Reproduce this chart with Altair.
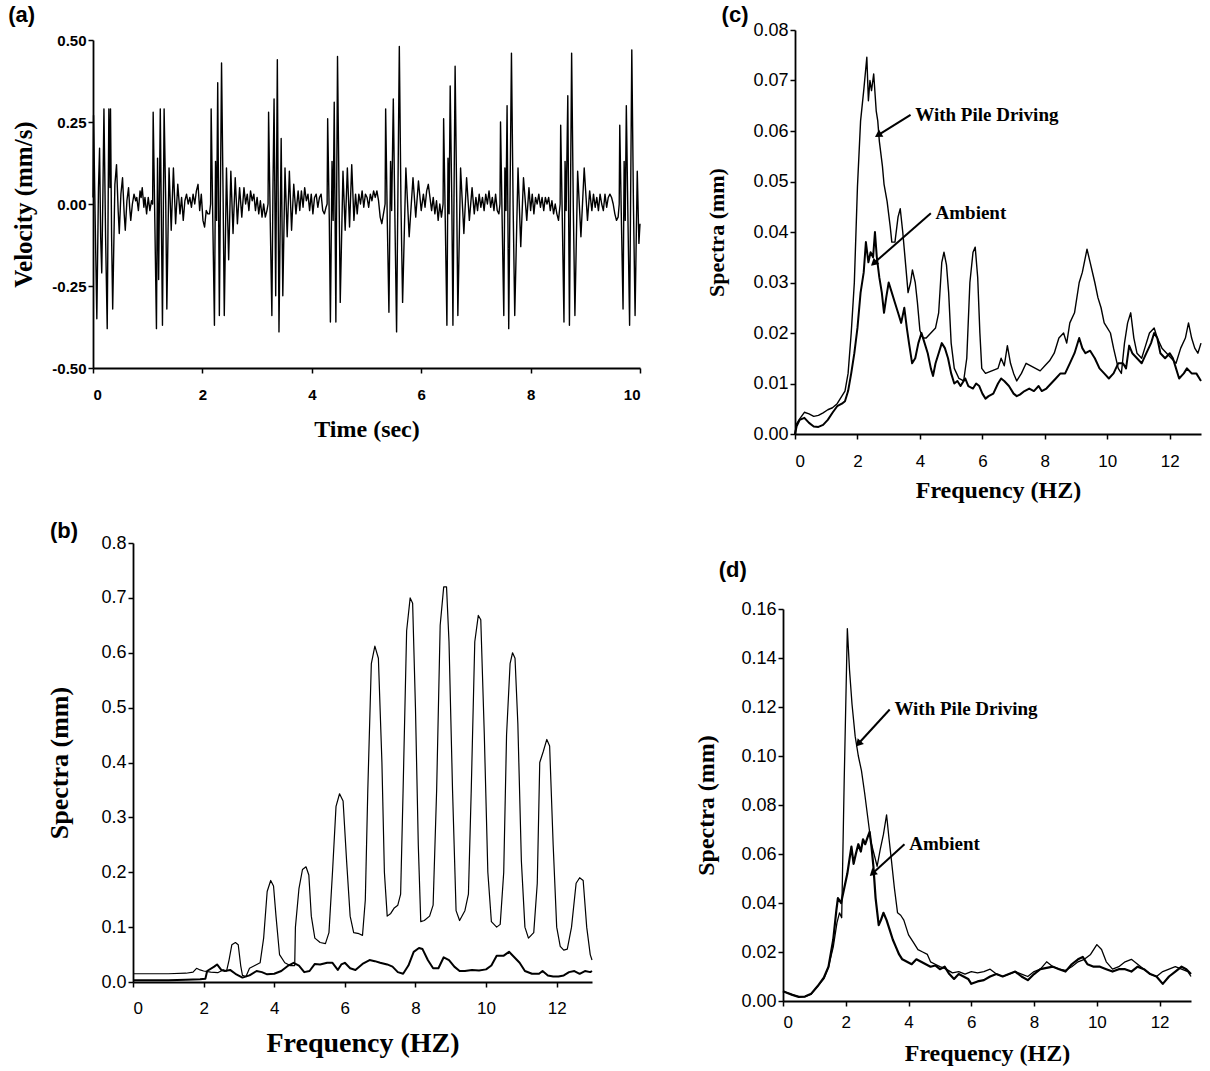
import math
import altair as alt
import pandas as pd

# ---------------- Panel (a): velocity time history, [time s, velocity mm/s] ----------------
burst_01 = [[0.00,0.02],[0.01,0.27],[0.04,-0.05],[0.07,-0.35],[0.10,0.05],[0.12,0.17],[0.14,-0.10],[0.16,-0.21],
            [0.18,0.02],[0.20,0.29],[0.23,-0.10],[0.26,-0.38],[0.29,0.29],[0.31,0.05],[0.32,0.29],[0.34,-0.10],
            [0.36,-0.32],[0.40,0.06],[0.43,0.12],[0.46,-0.02],[0.48,-0.09],[0.51,0.03],[0.54,0.08],[0.57,-0.03],
            [0.59,-0.08],[0.62,0.01],[0.65,0.05],[0.67,-0.01],[0.69,-0.05],[0.72,0.00],[0.75,0.03],[0.78,0.01],
            [0.80,0.02],[0.83,-0.02],[0.86,0.04],[0.88,0.02],[0.90,0.05],[0.93,-0.01],[0.95,0.02],[0.98,-0.03],
            [1.01,0.02],[1.04,-0.02],[1.07,0.01]]
burst_02 = [[1.09,0.00],[1.10,0.28],[1.13,-0.05],[1.16,-0.38],[1.18,0.14],[1.20,-0.23],[1.23,0.29],[1.25,-0.05],
            [1.27,-0.37],[1.30,0.29],[1.33,0.00],[1.35,-0.32],[1.39,0.11],[1.43,-0.08],[1.47,0.11],[1.51,-0.06],
            [1.55,0.06],[1.59,-0.03],[1.62,0.02],[1.65,-0.05],[1.68,0.01],[1.71,0.03],[1.74,0.00],[1.77,0.02],
            [1.80,-0.01],[1.83,0.03],[1.86,0.00],[1.89,0.04],[1.92,0.06],[1.95,-0.02],[1.98,0.03],[2.01,-0.05],
            [2.04,-0.07],[2.07,-0.02],[2.10,-0.03],[2.13,-0.03]]
burst_03 = [[2.15,0.00],[2.16,0.29],[2.19,-0.05],[2.22,-0.37],[2.24,0.13],[2.26,-0.05],[2.28,0.37],[2.31,-0.34],
            [2.35,0.43],[2.38,0.00],[2.40,-0.34],[2.44,0.11],[2.48,-0.17],[2.52,0.10],[2.56,-0.09],[2.60,0.08],
            [2.64,-0.06],[2.68,0.05],[2.72,-0.04],[2.76,0.05],[2.79,0.00],[2.82,0.03],[2.85,-0.02],[2.88,0.04],
            [2.91,0.01],[2.94,0.03],[2.97,-0.02],[3.00,0.02],[3.03,-0.03],[3.06,0.01],[3.09,-0.04],[3.12,0.00],
            [3.15,-0.04],[3.18,-0.02]]
burst_04 = [[3.20,0.00],[3.21,0.28],[3.24,-0.05],[3.27,-0.34],[3.29,0.05],[3.31,0.32],[3.34,-0.28],[3.37,0.44],
            [3.40,-0.39],[3.44,0.20],[3.47,-0.28],[3.51,0.11],[3.55,-0.10],[3.59,0.10],[3.63,-0.08],[3.67,0.06],
            [3.71,-0.03],[3.75,0.04],[3.78,-0.02],[3.81,0.04],[3.84,-0.01],[3.87,0.05],[3.90,0.01],[3.93,0.03],
            [3.96,-0.02],[3.99,0.03],[4.02,-0.03],[4.05,0.02],[4.08,0.03],[4.11,-0.01],[4.14,0.02],[4.17,0.03],
            [4.20,-0.02],[4.23,-0.03],[4.26,-0.01]]
burst_05 = [[4.28,0.00],[4.29,0.26],[4.32,-0.05],[4.34,-0.36],[4.37,0.13],[4.39,-0.05],[4.41,0.31],[4.44,-0.36],
            [4.47,0.45],[4.50,0.00],[4.52,-0.30],[4.57,0.10],[4.61,-0.08],[4.65,0.11],[4.69,-0.07],[4.73,0.12],
            [4.77,-0.05],[4.80,0.03],[4.83,-0.03],[4.86,0.03],[4.89,0.00],[4.92,0.04],[4.95,-0.01],[4.98,0.03],
            [5.01,0.02],[5.04,-0.01],[5.07,0.03],[5.10,0.01],[5.13,0.04],[5.16,0.02],[5.19,0.04],[5.22,0.01],
            [5.25,-0.04],[5.28,-0.06],[5.31,-0.03]]
burst_06 = [[5.34,0.00],[5.35,0.29],[5.38,-0.05],[5.41,-0.33],[5.44,0.13],[5.46,-0.02],[5.49,0.32],[5.52,-0.05],
            [5.55,-0.39],[5.60,0.48],[5.63,0.00],[5.66,-0.30],[5.72,0.11],[5.78,-0.10],[5.85,0.08],[5.90,-0.04],
            [5.95,0.07],[6.00,-0.02],[6.04,0.03],[6.07,-0.01],[6.10,0.04],[6.13,0.06],[6.16,0.02],[6.19,-0.02],
            [6.22,0.02],[6.25,-0.03],[6.28,0.01],[6.31,-0.05],[6.34,0.00],[6.37,-0.04]]
burst_07 = [[6.40,0.00],[6.41,0.26],[6.44,-0.05],[6.47,-0.37],[6.49,0.14],[6.51,-0.03],[6.53,0.36],[6.56,0.00],
            [6.58,-0.37],[6.62,0.42],[6.65,0.00],[6.67,-0.34],[6.72,0.11],[6.78,-0.09],[6.83,0.08],[6.88,-0.05],
            [6.93,0.05],[6.97,-0.03],[7.00,0.02],[7.03,-0.02],[7.06,0.03],[7.09,-0.01],[7.12,0.02],[7.15,-0.02],
            [7.18,0.03],[7.21,0.00],[7.24,0.04],[7.27,-0.01],[7.30,0.02],[7.33,-0.02],[7.36,0.03],[7.39,-0.02],
            [7.42,-0.03]]
burst_08 = [[7.44,0.00],[7.45,0.25],[7.48,-0.05],[7.51,-0.34],[7.53,0.11],[7.55,-0.02],[7.57,0.30],[7.60,-0.38],
            [7.65,0.46],[7.68,0.00],[7.71,-0.34],[7.77,0.11],[7.82,-0.13],[7.87,0.08],[7.93,-0.05],[7.97,0.05],
            [8.00,-0.02],[8.03,0.03],[8.06,-0.03],[8.09,0.02],[8.12,0.00],[8.15,0.03],[8.18,-0.01],[8.21,0.02],
            [8.24,-0.02],[8.27,0.02],[8.30,0.00],[8.33,0.02],[8.36,-0.02],[8.39,0.01],[8.42,-0.03],[8.45,0.00],
            [8.48,-0.03],[8.51,-0.05]]
burst_09 = [[8.54,0.00],[8.55,0.24],[8.58,-0.05],[8.61,-0.36],[8.63,0.13],[8.65,-0.02],[8.68,0.33],[8.71,-0.37],
            [8.75,0.46],[8.78,0.00],[8.81,-0.34],[8.86,0.10],[8.92,-0.10],[8.98,0.11],[9.04,-0.05],[9.08,0.04],
            [9.12,-0.02],[9.15,0.03],[9.18,-0.01],[9.21,0.02],[9.24,-0.02],[9.27,0.03],[9.30,0.00],[9.33,-0.02],
            [9.36,0.03],[9.39,-0.01],[9.42,0.02],[9.45,0.03],[9.48,0.02],[9.51,0.00],[9.54,-0.03],[9.57,-0.05],
            [9.60,-0.04]]
burst_10 = [[9.62,0.00],[9.63,0.24],[9.66,-0.05],[9.69,-0.32],[9.71,0.13],[9.73,-0.05],[9.75,0.30],[9.78,-0.05],
            [9.81,-0.37],[9.85,0.47],[9.88,0.00],[9.91,-0.34],[9.95,0.10],[9.98,-0.12],[10.00,-0.06]]
velocity_bursts = [burst_01, burst_02, burst_03, burst_04, burst_05, burst_06, burst_07, burst_08, burst_09, burst_10]

# ---------------- Panel (b): [frequency Hz, spectra mm] ----------------
b_pile = [[0.0,0.015],[0.5,0.015],[1.0,0.015],[1.5,0.016],[1.7,0.018],[1.8,0.025],[1.9,0.022],[2.0,0.020],[2.2,0.018],
          [2.4,0.017],[2.55,0.022],[2.65,0.020],[2.72,0.040],[2.8,0.068],[2.9,0.072],[2.98,0.068],[3.05,0.030],
          [3.1,0.012],[3.2,0.010],[3.3,0.025],[3.45,0.030],[3.6,0.035],[3.7,0.080],[3.8,0.165],[3.9,0.185],
          [3.98,0.175],[4.05,0.120],[4.15,0.050],[4.3,0.035],[4.45,0.030],[4.58,0.030],[4.6,0.100],[4.7,0.170],
          [4.8,0.205],[4.9,0.210],[4.98,0.195],[5.05,0.120],[5.15,0.080],[5.3,0.072],[5.45,0.070],[5.55,0.090],
          [5.65,0.200],[5.75,0.320],[5.85,0.343],[5.95,0.330],[6.05,0.220],[6.15,0.120],[6.25,0.090],[6.4,0.088],
          [6.5,0.085],[6.58,0.150],[6.65,0.350],[6.75,0.580],[6.85,0.612],[6.95,0.590],[7.05,0.400],[7.12,0.200],
          [7.2,0.120],[7.3,0.125],[7.4,0.135],[7.5,0.140],[7.58,0.160],[7.65,0.350],[7.75,0.640],[7.85,0.700],
          [7.92,0.690],[8.0,0.500],[8.08,0.250],[8.15,0.110],[8.25,0.112],[8.4,0.120],[8.5,0.140],[8.6,0.350],
          [8.7,0.650],[8.8,0.720],[8.88,0.720],[8.95,0.620],[9.05,0.350],[9.15,0.130],[9.25,0.112],[9.4,0.130],
          [9.5,0.160],[9.58,0.350],[9.68,0.620],[9.78,0.668],[9.85,0.660],[9.95,0.450],[10.05,0.200],[10.15,0.110],
          [10.3,0.100],[10.4,0.105],[10.5,0.200],[10.58,0.450],[10.68,0.580],[10.75,0.600],[10.82,0.590],
          [10.9,0.470],[11.0,0.220],[11.1,0.100],[11.2,0.080],[11.35,0.090],[11.45,0.180],[11.52,0.400],
          [11.62,0.420],[11.72,0.442],[11.8,0.430],[11.9,0.250],[12.0,0.100],[12.1,0.065],[12.2,0.058],
          [12.3,0.060],[12.42,0.100],[12.55,0.180],[12.65,0.190],[12.75,0.185],[12.85,0.100],[12.95,0.050],
          [13.0,0.040]]
b_ambient = [[0.0,0.003],[0.5,0.003],[1.0,0.003],[1.5,0.004],[1.9,0.005],[2.05,0.006],[2.1,0.020],[2.3,0.028],
             [2.38,0.032],[2.5,0.022],[2.6,0.020],[2.75,0.022],[2.9,0.015],[3.1,0.008],[3.3,0.012],[3.5,0.020],
             [3.65,0.018],[3.8,0.014],[4.0,0.015],[4.2,0.020],[4.4,0.030],[4.55,0.035],[4.7,0.030],[4.85,0.018],
             [5.0,0.020],[5.15,0.033],[5.3,0.032],[5.5,0.035],[5.65,0.035],[5.8,0.022],[5.9,0.032],[6.0,0.035],
             [6.15,0.025],[6.3,0.022],[6.5,0.033],[6.7,0.040],[6.85,0.038],[7.0,0.035],[7.2,0.032],[7.35,0.028],
             [7.5,0.018],[7.65,0.015],[7.8,0.030],[7.95,0.055],[8.1,0.062],[8.2,0.060],[8.35,0.040],[8.5,0.025],
             [8.65,0.025],[8.8,0.045],[8.95,0.040],[9.1,0.028],[9.25,0.020],[9.4,0.020],[9.6,0.022],[9.8,0.021],
             [10.0,0.023],[10.15,0.030],[10.3,0.048],[10.5,0.048],[10.65,0.055],[10.8,0.045],[10.95,0.035],
             [11.1,0.020],[11.3,0.015],[11.5,0.015],[11.6,0.020],[11.75,0.012],[11.9,0.010],[12.05,0.010],
             [12.2,0.012],[12.35,0.018],[12.5,0.020],[12.65,0.015],[12.8,0.020],[12.95,0.018],[13.0,0.020]]

# ---------------- Panel (c) ----------------
c_pile = [[0.0,0.0],[0.05,0.002],[0.15,0.003],[0.3,0.0043],[0.45,0.004],[0.6,0.0035],[0.75,0.0037],[0.9,0.0042],
          [1.05,0.0048],[1.2,0.0052],[1.35,0.006],[1.5,0.0075],[1.6,0.0085],[1.7,0.012],[1.8,0.020],[1.9,0.030],
          [2.0,0.049],[2.1,0.062],[2.2,0.068],[2.3,0.0746],[2.35,0.066],[2.4,0.070],[2.45,0.068],[2.52,0.0713],
          [2.6,0.064],[2.65,0.062],[2.7,0.058],[2.8,0.053],[2.85,0.0495],[2.95,0.046],[3.05,0.041],[3.1,0.038],
          [3.2,0.038],[3.3,0.043],[3.37,0.0446],[3.45,0.040],[3.55,0.033],[3.62,0.028],[3.7,0.030],[3.76,0.0325],
          [3.85,0.030],[3.92,0.026],[4.0,0.0205],[4.1,0.019],[4.2,0.019],[4.35,0.020],[4.5,0.021],[4.6,0.024],
          [4.7,0.034],[4.77,0.036],[4.85,0.0335],[4.92,0.028],[5.0,0.018],[5.1,0.013],[5.25,0.011],[5.4,0.0105],
          [5.5,0.015],[5.6,0.030],[5.7,0.036],[5.77,0.037],[5.85,0.031],[5.92,0.020],[5.98,0.013],[6.1,0.012],
          [6.3,0.0125],[6.5,0.013],[6.6,0.015],[6.7,0.0135],[6.8,0.0175],[6.9,0.014],[7.0,0.012],[7.1,0.0105],
          [7.25,0.012],[7.4,0.014],[7.55,0.0135],[7.7,0.013],[7.85,0.0125],[8.0,0.0135],[8.15,0.0145],[8.3,0.016],
          [8.45,0.019],[8.6,0.020],[8.7,0.018],[8.8,0.022],[8.95,0.024],[9.1,0.030],[9.2,0.032],[9.35,0.0366],
          [9.45,0.034],[9.6,0.030],[9.7,0.027],[9.8,0.025],[9.9,0.022],[10.0,0.021],[10.1,0.020],[10.2,0.017],
          [10.35,0.013],[10.45,0.012],[10.55,0.018],[10.65,0.022],[10.75,0.024],[10.85,0.019],[10.95,0.016],
          [11.1,0.015],[11.2,0.017],[11.35,0.020],[11.5,0.021],[11.6,0.019],[11.75,0.017],[11.9,0.016],
          [12.05,0.015],[12.2,0.014],[12.35,0.017],[12.5,0.019],[12.6,0.022],[12.7,0.019],[12.8,0.017],
          [12.9,0.016],[13.0,0.018]]
c_ambient = [[0.0,0.0],[0.05,0.0015],[0.15,0.0028],[0.3,0.0032],[0.45,0.0022],[0.6,0.0015],[0.75,0.0014],
             [0.9,0.0018],[1.05,0.0028],[1.2,0.0042],[1.35,0.0055],[1.5,0.006],[1.6,0.0065],[1.7,0.0085],
             [1.8,0.012],[1.9,0.016],[2.0,0.021],[2.1,0.028],[2.2,0.032],[2.27,0.038],[2.35,0.034],[2.42,0.036],
             [2.5,0.035],[2.56,0.040],[2.62,0.035],[2.7,0.031],[2.78,0.028],[2.85,0.024],[2.92,0.027],[3.0,0.030],
             [3.1,0.028],[3.2,0.026],[3.3,0.024],[3.4,0.022],[3.5,0.025],[3.58,0.021],[3.65,0.018],[3.75,0.014],
             [3.85,0.015],[3.95,0.018],[4.05,0.020],[4.15,0.018],[4.25,0.016],[4.35,0.013],[4.42,0.0115],
             [4.5,0.014],[4.6,0.016],[4.7,0.018],[4.8,0.017],[4.9,0.015],[5.0,0.012],[5.1,0.010],[5.2,0.0105],
             [5.3,0.0095],[5.45,0.011],[5.55,0.0095],[5.7,0.009],[5.8,0.010],[5.9,0.0095],[6.0,0.008],[6.1,0.007],
             [6.2,0.0075],[6.35,0.008],[6.5,0.010],[6.6,0.011],[6.7,0.0105],[6.85,0.0095],[7.0,0.008],[7.1,0.0075],
             [7.2,0.0078],[7.35,0.0085],[7.5,0.009],[7.65,0.0085],[7.8,0.0095],[7.9,0.0085],[8.05,0.009],
             [8.2,0.010],[8.35,0.011],[8.5,0.012],[8.65,0.012],[8.8,0.014],[8.95,0.016],[9.1,0.019],[9.2,0.017],
             [9.3,0.016],[9.45,0.0165],[9.6,0.015],[9.75,0.013],[9.9,0.012],[10.05,0.011],[10.2,0.012],
             [10.35,0.014],[10.5,0.014],[10.6,0.013],[10.7,0.0175],[10.8,0.016],[10.95,0.015],[11.1,0.014],
             [11.25,0.016],[11.4,0.018],[11.5,0.020],[11.6,0.019],[11.7,0.016],[11.85,0.015],[12.0,0.016],
             [12.1,0.015],[12.2,0.013],[12.3,0.011],[12.45,0.012],[12.55,0.013],[12.7,0.012],[12.85,0.012],
             [13.0,0.0105]]

# ---------------- Panel (d) ----------------
d_pile = [[0.0,0.004],[0.1,0.0035],[0.3,0.0025],[0.5,0.0018],[0.7,0.0018],[0.9,0.0028],[1.1,0.006],[1.3,0.009],
          [1.45,0.014],[1.6,0.022],[1.72,0.032],[1.8,0.036],[1.87,0.034],[1.95,0.090],[2.05,0.152],[2.12,0.135],
          [2.2,0.121],[2.3,0.108],[2.4,0.100],[2.5,0.094],[2.6,0.085],[2.7,0.075],[2.8,0.065],[2.9,0.060],
          [3.0,0.055],[3.1,0.062],[3.2,0.068],[3.3,0.076],[3.38,0.066],[3.45,0.058],[3.55,0.046],[3.65,0.036],
          [3.75,0.035],[3.85,0.033],[4.0,0.027],[4.15,0.024],[4.3,0.021],[4.45,0.020],[4.6,0.019],[4.7,0.016],
          [4.85,0.015],[5.0,0.014],[5.2,0.013],[5.4,0.0115],[5.6,0.012],[5.8,0.011],[6.0,0.012],[6.2,0.0115],
          [6.4,0.012],[6.6,0.013],[6.8,0.011],[7.0,0.010],[7.2,0.011],[7.4,0.012],[7.6,0.011],[7.8,0.010],
          [8.0,0.012],[8.2,0.013],[8.4,0.016],[8.6,0.014],[8.8,0.013],[9.0,0.0125],[9.2,0.014],[9.4,0.016],
          [9.6,0.017],[9.8,0.019],[10.0,0.023],[10.15,0.021],[10.3,0.016],[10.5,0.013],[10.7,0.014],[10.9,0.016],
          [11.1,0.017],[11.3,0.015],[11.5,0.013],[11.7,0.011],[11.9,0.010],[12.1,0.012],[12.3,0.013],[12.5,0.014],
          [12.7,0.013],[12.9,0.012],[13.0,0.010]]
d_ambient = [[0.0,0.004],[0.1,0.0035],[0.3,0.0025],[0.5,0.0017],[0.7,0.0018],[0.9,0.003],[1.1,0.006],[1.3,0.0095],
             [1.45,0.014],[1.6,0.025],[1.7,0.037],[1.75,0.042],[1.85,0.040],[1.95,0.046],[2.05,0.052],[2.12,0.058],
             [2.18,0.063],[2.25,0.056],[2.32,0.060],[2.4,0.064],[2.48,0.061],[2.55,0.066],[2.62,0.064],[2.7,0.067],
             [2.76,0.069],[2.82,0.063],[2.88,0.055],[2.95,0.042],[3.05,0.031],[3.12,0.033],[3.2,0.036],[3.3,0.033],
             [3.4,0.029],[3.5,0.025],[3.6,0.022],[3.7,0.019],[3.8,0.017],[3.95,0.016],[4.1,0.015],[4.25,0.017],
             [4.4,0.016],[4.55,0.015],[4.7,0.014],[4.85,0.0145],[5.0,0.013],[5.15,0.014],[5.3,0.011],[5.45,0.009],
             [5.6,0.011],[5.75,0.010],[5.9,0.009],[6.0,0.007],[6.2,0.008],[6.4,0.0085],[6.6,0.010],[6.8,0.011],
             [7.0,0.010],[7.2,0.011],[7.4,0.012],[7.6,0.010],[7.8,0.0085],[8.0,0.011],[8.2,0.013],[8.4,0.0135],
             [8.6,0.014],[8.8,0.013],[9.0,0.012],[9.2,0.015],[9.4,0.017],[9.55,0.018],[9.7,0.015],[9.9,0.014],
             [10.1,0.014],[10.3,0.013],[10.5,0.012],[10.7,0.013],[10.9,0.013],[11.1,0.012],[11.3,0.014],[11.5,0.013],
             [11.7,0.011],[11.9,0.010],[12.1,0.007],[12.3,0.010],[12.5,0.012],[12.7,0.014],[12.85,0.013],[13.0,0.011]]

# annotations: label, text position (x, y), arrow tip (x, y)
c_notes = [["With Pile Driving", 3.85, 0.0632, 2.66, 0.0592], ["Ambient", 4.50, 0.0437, 2.52, 0.0338]]
d_notes = [["With Pile Driving", 3.55, 0.1190, 2.40, 0.1050], ["Ambient", 4.02, 0.0640, 2.85, 0.0520]]
panel_labels = {"a": ["(a)", -1.55, 0.575], "b": ["(b)", -2.35, 0.822],
                "c": ["(c)", -2.35, 0.083], "d": ["(d)", -2.05, 0.176]}

# ---------------- layout (pixels) ----------------
W, H = 1210, 1071
SANS = "Liberation Sans"
SERIF = "Liberation Serif"


def x_axis(axis_px, values, lsize, lweight, lpad, title, tsize, tpad):
    return alt.Axis(orient="bottom", offset=axis_px - H, values=values, format="d", labelOverlap=False,
                    labelFont=SANS, labelFontSize=lsize, labelFontWeight=lweight, labelColor="black",
                    labelPadding=lpad, title=title, titleFont=SERIF, titleFontSize=tsize,
                    titleFontWeight="bold", titleColor="black", titlePadding=tpad,
                    domainColor="black", domainWidth=1.8, tickColor="black", tickWidth=1.5, tickSize=5,
                    grid=False)


def y_axis(axis_px, values, fmt, lsize, lweight, lpad, title, tsize, tpad):
    expr = ("datum.value < 0 ? '-' + format(-datum.value, '%s') : format(datum.value, '%s')" % (fmt, fmt))
    return alt.Axis(orient="left", offset=-axis_px, values=values, labelExpr=expr, labelOverlap=False,
                    labelFont=SANS, labelFontSize=lsize, labelFontWeight=lweight, labelColor="black",
                    labelPadding=lpad, title=title, titleFont=SERIF, titleFontSize=tsize,
                    titleFontWeight="bold", titleColor="black", titlePadding=tpad,
                    domainColor="black", domainWidth=1.8, tickColor="black", tickWidth=1.5, tickSize=5,
                    grid=False)


def panel(series, xdom, ydom, xr, yr, xax, yax, label, notes=None):
    xs = alt.Scale(domain=xdom, range=xr, nice=False, zero=False)
    ys = alt.Scale(domain=ydom, range=yr, nice=False, zero=False)
    layers = []
    for pairs, sw in series:
        df = pd.DataFrame(pairs, columns=["x", "y"])
        layers.append(alt.Chart(df).mark_line(color="black", strokeWidth=sw, strokeJoin="round").encode(
            x=alt.X("x:Q", scale=xs, axis=xax), y=alt.Y("y:Q", scale=ys, axis=yax)))
    lab = pd.DataFrame([label], columns=["t", "x", "y"])
    layers.append(alt.Chart(lab).mark_text(align="left", baseline="middle", font=SANS, fontWeight="bold",
                                           fontSize=22, color="black").encode(
        x=alt.X("x:Q", scale=xs, axis=xax), y=alt.Y("y:Q", scale=ys, axis=yax), text="t:N"))
    if notes:
        px_x = (xr[1] - xr[0]) / (xdom[1] - xdom[0])
        px_y = (yr[0] - yr[1]) / (ydom[1] - ydom[0])
        rows = []
        for t, tx, ty, hx, hy in notes:
            sx, sy = tx - 0.15, ty
            dx = (hx - sx) * px_x
            dy = -(hy - sy) * px_y
            ang = (math.degrees(math.atan2(dx, -dy)) + 360) % 360
            rows.append([t, tx, ty, sx, sy, hx, hy, ang])
        nd = pd.DataFrame(rows, columns=["t", "x", "y", "sx", "sy", "hx", "hy", "ang"])
        layers.append(alt.Chart(nd).mark_text(align="left", baseline="middle", font=SERIF, fontWeight="bold",
                                              fontSize=19, color="black").encode(
            x=alt.X("x:Q", scale=xs, axis=xax), y=alt.Y("y:Q", scale=ys, axis=yax), text="t:N"))
        layers.append(alt.Chart(nd).mark_rule(color="black", strokeWidth=2).encode(
            x=alt.X("sx:Q", scale=xs, axis=xax), y=alt.Y("sy:Q", scale=ys, axis=yax),
            x2="hx:Q", y2="hy:Q"))
        layers.append(alt.Chart(nd).mark_point(shape="triangle-up", filled=True, size=70, color="black",
                                               opacity=1).encode(
            x=alt.X("hx:Q", scale=xs, axis=xax), y=alt.Y("hy:Q", scale=ys, axis=yax),
            angle=alt.Angle("ang:Q", scale=None)))
    return alt.layer(*layers)


a_pairs = [p for b in velocity_bursts for p in b]

pa = panel([(a_pairs, 1.4)], [0, 10], [-0.5, 0.5], [93, 640], [368, 40],
           x_axis(368, [0, 2, 4, 6, 8, 10], 15, "bold", 14, "Time (sec)", 24, 15),
           y_axis(93, [-0.5, -0.25, 0, 0.25, 0.5], ".2f", 15, "bold", 2, "Velocity (mm/s)", 25, 15),
           panel_labels["a"])
pb = panel([(b_pile, 1.2), (b_ambient, 2.0)], [0, 13], [0, 0.8], [133, 592], [982, 543],
           x_axis(982, [0, 2, 4, 6, 8, 10, 12], 17, "normal", 13, "Frequency (HZ)", 28, 13),
           y_axis(133, [0, 0.1, 0.2, 0.3, 0.4, 0.5, 0.6, 0.7, 0.8], ".1f", 18, "normal", 2, "Spectra (mm)", 26, 28),
           panel_labels["b"])
pc = panel([(c_pile, 1.4), (c_ambient, 2.0)], [0, 13], [0, 0.08], [795, 1201], [434, 30],
           x_axis(434, [0, 2, 4, 6, 8, 10, 12], 17, "normal", 14, "Frequency (HZ)", 24, 9),
           y_axis(795, [0, 0.01, 0.02, 0.03, 0.04, 0.05, 0.06, 0.07, 0.08], ".2f", 18, "normal", 2,
                  "Spectra (mm)", 22, 24),
           panel_labels["c"], c_notes)
pd_ = panel([(d_pile, 1.3), (d_ambient, 2.2)], [0, 13], [0, 0.16], [783, 1191], [1001, 609],
            x_axis(1001, [0, 2, 4, 6, 8, 10, 12], 17, "normal", 8, "Frequency (HZ)", 24, 11),
            y_axis(783, [0, 0.02, 0.04, 0.06, 0.08, 0.10, 0.12, 0.14, 0.16], ".2f", 18, "normal", 2,
                   "Spectra (mm)", 24, 22),
            panel_labels["d"], d_notes)

chart = (alt.layer(pa, pb, pc, pd_)
         .resolve_scale(x="independent", y="independent")
         .resolve_axis(x="independent", y="independent")
         .properties(width=W, height=H, padding=0, autosize=alt.AutoSizeParams(type="none"),
                     background="white")
         .configure_view(stroke=None))

chart.save("out.html", embed_options={"renderer": "svg", "actions": False})
